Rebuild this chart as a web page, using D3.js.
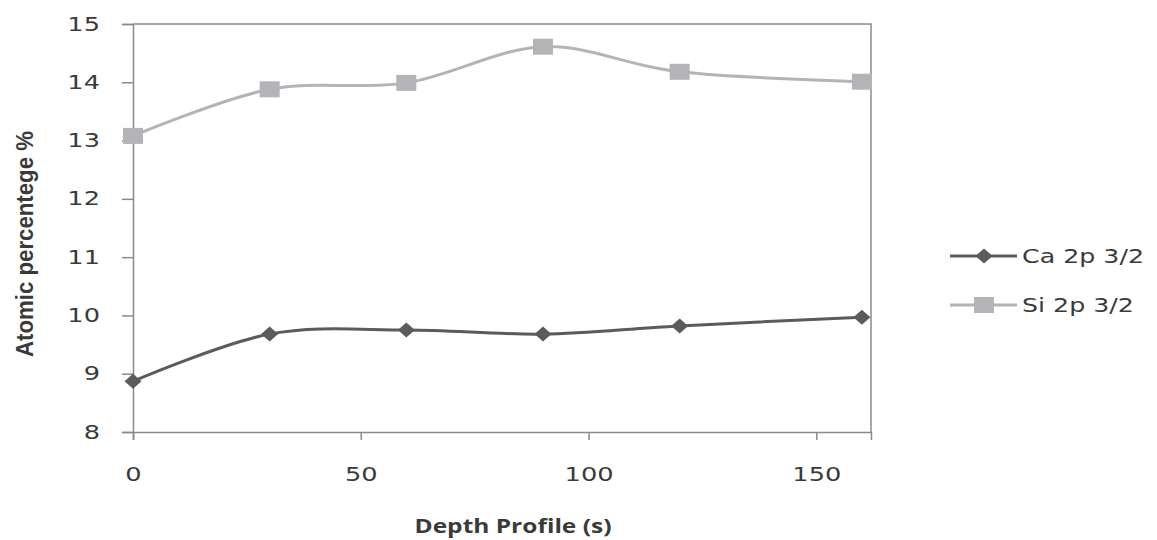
<!DOCTYPE html>
<html>
<head>
<meta charset="utf-8">
<script src="https://cdn.jsdelivr.net/npm/d3@7"></script>
<style>
  body { margin: 0; background: #fff; }
  #chart svg { display: block; }
</style>
</head>
<body>
<div id="chart"></div>
<script>
// Depth profile times (s)
const depth = [0, 30, 60, 90, 120, 160];
// Atomic percentage values
const ca2p = [8.87, 9.68, 9.75, 9.68, 9.82, 9.97];
const si2p = [13.08, 13.88, 13.99, 14.61, 14.18, 14.01];
const seriesNames = ['Ca 2p 3/2', 'Si 2p 3/2'];
const yTicks = [8, 9, 10, 11, 12, 13, 14, 15];
const xTicks = [0, 50, 100, 150];

const W = 1157, H = 540;
const margin = { top: 24, right: 286, bottom: 108, left: 133 };
const width = W - margin.left - margin.right,
      height = H - margin.top - margin.bottom;

const svg = d3.select('#chart').append('svg')
    .attr('width', W).attr('height', H);
const g = svg.append('g')
    .attr('transform', `translate(${margin.left},${margin.top})`);

const x = d3.scaleLinear().domain([0, 162]).range([0, width]);
const y = d3.scaleLinear().domain([8, 15]).range([height, 0]);

const axisColor = '#8a8a8a';
const textColor = '#3a3a3a';
const tickFont = '"DejaVu Sans", Verdana, sans-serif';

// the source picture is stretched sideways, so widen the text to match
function stretch(sel, k) {
    sel.each(function () {
        const w = this.getComputedTextLength();
        d3.select(this)
            .attr('textLength', w * k)
            .attr('lengthAdjust', 'spacingAndGlyphs');
    });
}

// plot frame (top and right)
g.append('path')
    .attr('d', `M0,0H${width}V${height}`)
    .attr('fill', 'none').attr('stroke', axisColor).attr('stroke-width', 1.5);

// y axis
const yAxis = g.append('g')
    .call(d3.axisLeft(y).tickValues(yTicks).tickFormat(d3.format('d')).tickSize(11).tickPadding(22));
// x axis
const xAxis = g.append('g')
    .attr('transform', `translate(0,${height})`)
    .call(d3.axisBottom(x).tickValues(xTicks).tickFormat(d3.format('d')).tickSize(8).tickPadding(28));

[yAxis, xAxis].forEach(a => {
    a.selectAll('path, line').attr('stroke', axisColor).attr('stroke-width', 1.5);
    a.selectAll('text')
        .attr('fill', textColor)
        .style('font-family', tickFont)
        .style('font-size', '19px')
        .call(stretch, 1.35);
});

// axis titles
svg.append('text')
    .attr('transform', `translate(33,${margin.top + height / 2 + 16}) rotate(-90)`)
    .attr('text-anchor', 'middle')
    .style('font-family', '"Liberation Sans Narrow", "Arial Narrow", sans-serif')
    .style('font-weight', 'bold')
    .style('font-size', '23px')
    .attr('fill', textColor)
    .text('Atomic percentege %')
    .attr('textLength', 226)
    .attr('lengthAdjust', 'spacingAndGlyphs');

svg.append('text')
    .attr('x', 513).attr('y', 533)
    .attr('text-anchor', 'middle')
    .style('font-family', '"Open Sans", sans-serif')
    .style('font-weight', 'bold')
    .style('font-size', '20px')
    .attr('fill', textColor)
    .text('Depth Profile  (s)')
    .attr('textLength', 197)
    .attr('lengthAdjust', 'spacingAndGlyphs');

const series = [
    { name: seriesNames[0], values: ca2p, color: '#5b5b5d', marker: 'diamond' },
    { name: seriesNames[1], values: si2p, color: '#b4b4b8', marker: 'square' }
];

const line = d3.line()
    .x(d => x(d[0]))
    .y(d => y(d[1]))
    .curve(d3.curveCatmullRom.alpha(0));

function drawMarker(sel, type, color) {
    if (type === 'square') {
        sel.append('rect')
            .attr('x', -10).attr('y', -8).attr('width', 20).attr('height', 16)
            .attr('fill', color);
    } else {
        sel.append('path')
            .attr('d', 'M0,-7.5L8.5,0L0,7.5L-8.5,0Z')
            .attr('fill', color);
    }
}

series.forEach(s => {
    const pts = depth.map((d, i) => [d, s.values[i]]);
    g.append('path')
        .datum(pts)
        .attr('d', line)
        .attr('fill', 'none')
        .attr('stroke', s.color)
        .attr('stroke-width', 3);
    g.selectAll(null)
        .data(pts)
        .enter()
        .append('g')
        .attr('transform', d => `translate(${x(d[0])},${y(d[1])})`)
        .each(function () { drawMarker(d3.select(this), s.marker, s.color); });
});

// legend
const legend = svg.append('g').attr('transform', 'translate(950,256)');
series.forEach((s, i) => {
    const row = legend.append('g').attr('transform', `translate(0,${i * 49})`);
    row.append('line')
        .attr('x1', 0).attr('x2', 67)
        .attr('stroke', s.color).attr('stroke-width', 3);
    drawMarker(row.append('g').attr('transform', 'translate(34,0)'), s.marker, s.color);
    row.append('text')
        .attr('x', 72).attr('y', 7)
        .style('font-family', tickFont)
        .style('font-size', '19px')
        .attr('fill', textColor)
        .text(s.name)
        .call(stretch, 1.33);
});
</script>
</body>
</html>
